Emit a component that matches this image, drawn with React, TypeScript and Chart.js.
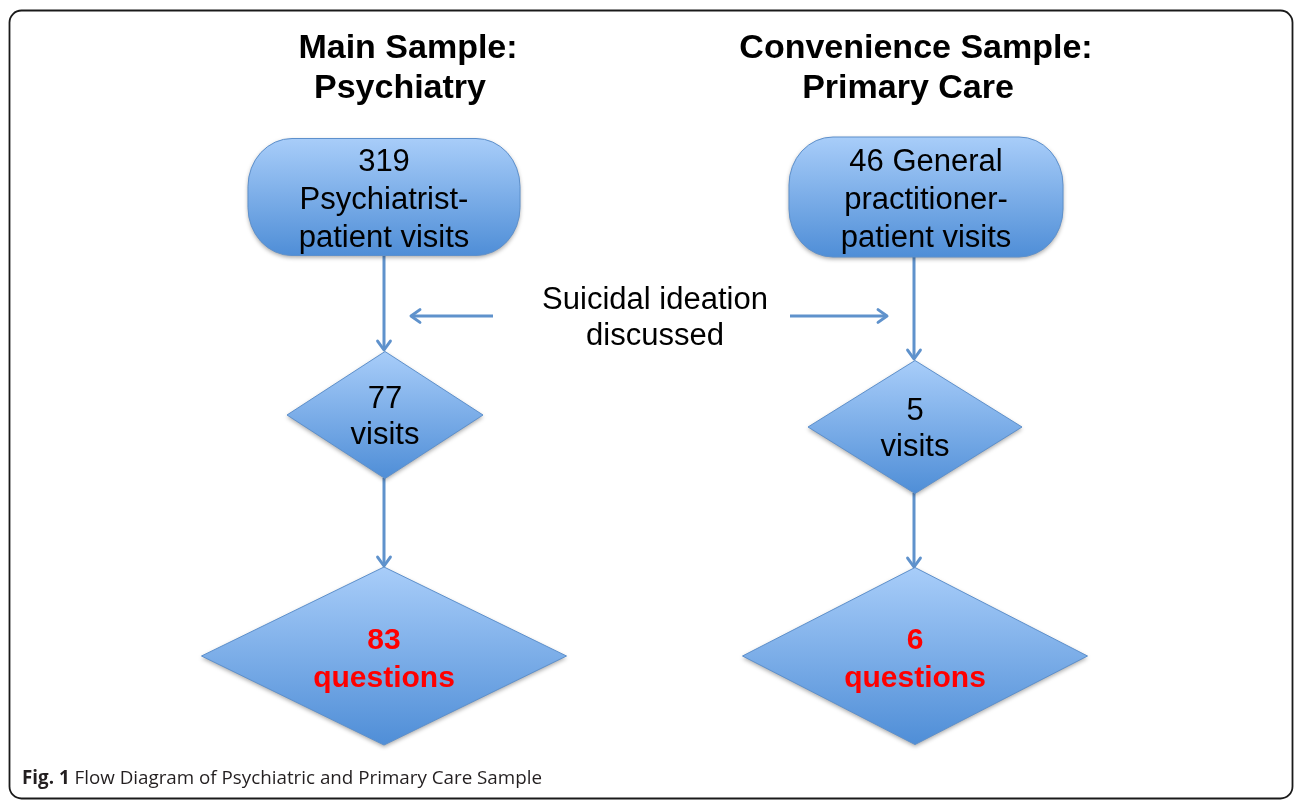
import React, { useEffect, useRef } from 'react';
import { Chart, registerables } from 'chart.js';

Chart.register(...registerables);

const W = 1295;
const H = 803;

// ---- content / values ----
const columnTitles = [
  ['Main Sample:', 'Psychiatry'],
  ['Convenience Sample:', 'Primary Care'],
];
const visitCounts = [319, 46];
const visitFirstLineSuffix = ['', ' General'];
const visitLabels = [
  ['Psychiatrist-', 'patient visits'],
  ['practitioner-', 'patient visits'],
];
const discussedCounts = [77, 5];
const discussedLabel = 'visits';
const questionCounts = [83, 6];
const questionLabel = 'questions';
const middleLabel = ['Suicidal ideation', 'discussed'];
const captionBold = 'Fig. 1';
const captionText = ' Flow Diagram of Psychiatric and Primary Care Sample';

// ---- layout (data units == page pixels) ----
const TITLE_POS = [
  [{ x: 408, y: 58 }, { x: 400, y: 98 }],
  [{ x: 916, y: 58 }, { x: 908, y: 98 }],
];
const PILL_BOX = [
  { x: 384, y: 197, w: 272, h: 117 },
  { x: 926, y: 197, w: 274, h: 120 },
];
const SMALL_BOX = [
  { x: 385, y: 415, w: 196, h: 127 },
  { x: 915, y: 427, w: 214, h: 133 },
];
const LARGE_BOX = [
  { x: 384, y: 656, w: 365, h: 178 },
  { x: 915, y: 656, w: 345, h: 177 },
];
const CONNECTORS = [
  [{ x: 384, y: 256 }, { x: 384, y: 350 }],
  [{ x: 384, y: 478 }, { x: 384, y: 566 }],
  [{ x: 914, y: 257 }, { x: 914, y: 359 }],
  [{ x: 914, y: 493 }, { x: 914, y: 567 }],
  [{ x: 493, y: 316 }, { x: 411, y: 316 }],
  [{ x: 790, y: 316 }, { x: 887, y: 316 }],
];
const MIDDLE_POS = [{ x: 655, y: 309 }, { x: 655, y: 345 }];

const SANS = '"Liberation Sans", Arial, Helvetica, sans-serif';
const CAPTION_FONT = '"Open Sans", "Noto Sans", sans-serif';
const ARROW = '#5f92cc';
const SHAPE_BORDER = '#5d90cc';
const GRAD_TOP = '#a8cdf9';
const GRAD_BOTTOM = '#4f8ed7';

function px(chart: any, p: { x: number; y: number }) {
  return { x: chart.scales.x.getPixelForValue(p.x), y: chart.scales.y.getPixelForValue(p.y) };
}

function sizePx(chart: any, b: { x: number; y: number; w: number; h: number }) {
  const xs = chart.scales.x;
  const ys = chart.scales.y;
  return {
    w: Math.abs(xs.getPixelForValue(b.x + b.w / 2) - xs.getPixelForValue(b.x - b.w / 2)),
    h: Math.abs(ys.getPixelForValue(b.y + b.h / 2) - ys.getPixelForValue(b.y - b.h / 2)),
  };
}

function fillShape(ctx: CanvasRenderingContext2D, cx: number, cy: number, w: number, h: number, path: () => void) {
  const g = ctx.createLinearGradient(0, cy - h / 2, 0, cy + h / 2);
  g.addColorStop(0, GRAD_TOP);
  g.addColorStop(1, GRAD_BOTTOM);
  ctx.save();
  ctx.shadowColor = 'rgba(0,0,0,0.35)';
  ctx.shadowBlur = 4;
  ctx.shadowOffsetY = 2;
  path();
  ctx.fillStyle = g;
  ctx.fill();
  ctx.restore();
  ctx.save();
  path();
  ctx.strokeStyle = SHAPE_BORDER;
  ctx.lineWidth = 1;
  ctx.stroke();
  ctx.restore();
}

function diamondPath(ctx: CanvasRenderingContext2D, cx: number, cy: number, w: number, h: number) {
  return () => {
    ctx.beginPath();
    ctx.moveTo(cx, cy - h / 2);
    ctx.lineTo(cx + w / 2, cy);
    ctx.lineTo(cx, cy + h / 2);
    ctx.lineTo(cx - w / 2, cy);
    ctx.closePath();
  };
}

function pillPath(ctx: CanvasRenderingContext2D, cx: number, cy: number, w: number, h: number, rx: number, ry: number) {
  return () => {
    const x0 = cx - w / 2;
    const y0 = cy - h / 2;
    const P = Math.PI;
    ctx.beginPath();
    ctx.moveTo(x0 + rx, y0);
    ctx.lineTo(x0 + w - rx, y0);
    ctx.ellipse(x0 + w - rx, y0 + ry, rx, ry, 0, -P / 2, 0);
    ctx.lineTo(x0 + w, y0 + h - ry);
    ctx.ellipse(x0 + w - rx, y0 + h - ry, rx, ry, 0, 0, P / 2);
    ctx.lineTo(x0 + rx, y0 + h);
    ctx.ellipse(x0 + rx, y0 + h - ry, rx, ry, 0, P / 2, P);
    ctx.lineTo(x0, y0 + ry);
    ctx.ellipse(x0 + rx, y0 + ry, rx, ry, 0, P, 1.5 * P);
    ctx.closePath();
  };
}

function text(ctx: CanvasRenderingContext2D, s: string, x: number, y: number, font: string, color: string, align: CanvasTextAlign = 'center') {
  ctx.save();
  ctx.font = font;
  ctx.fillStyle = color;
  ctx.textAlign = align;
  ctx.textBaseline = 'alphabetic';
  ctx.fillText(s, x, y);
  ctx.restore();
}

const flowPlugin = {
  id: 'flowDiagram',
  beforeDraw(chart: any) {
    const ctx: CanvasRenderingContext2D = chart.ctx;
    ctx.save();
    ctx.fillStyle = '#ffffff';
    ctx.fillRect(0, 0, chart.width, chart.height);
    ctx.beginPath();
    ctx.roundRect(9.5, 10.5, 1283, 788, 12);
    ctx.strokeStyle = '#1a1a1a';
    ctx.lineWidth = 1.8;
    ctx.stroke();
    ctx.restore();
  },
  afterDatasetsDraw(chart: any) {
    const ctx: CanvasRenderingContext2D = chart.ctx;
    // arrowheads on connector datasets
    chart.data.datasets.forEach((ds: any, i: number) => {
      if (ds.kind !== 'connector') return;
      const meta = chart.getDatasetMeta(i);
      const a = meta.data[0];
      const b = meta.data[1];
      const ang = Math.atan2(b.y - a.y, b.x - a.x);
      const L = 11;
      const spread = 0.62;
      ctx.save();
      ctx.strokeStyle = ARROW;
      ctx.lineWidth = 3;
      ctx.lineCap = 'round';
      ctx.lineJoin = 'round';
      ctx.beginPath();
      ctx.moveTo(b.x - L * Math.cos(ang - spread), b.y - L * Math.sin(ang - spread));
      ctx.lineTo(b.x, b.y);
      ctx.lineTo(b.x - L * Math.cos(ang + spread), b.y - L * Math.sin(ang + spread));
      ctx.stroke();
      ctx.restore();
    });

    // nodes
    chart.data.datasets.forEach((ds: any, i: number) => {
      if (ds.kind === 'connector') return;
      const meta = chart.getDatasetMeta(i);
      meta.data.forEach((el: any, j: number) => {
        const box = ds.boxes[j];
        const { w, h } = sizePx(chart, box);
        const cx = el.x;
        const cy = el.y;
        if (ds.kind === 'pill') {
          fillShape(ctx, cx, cy, w, h, pillPath(ctx, cx, cy, w, h, 44, 48));
          const lines = [`${ds.data[j].v}${visitFirstLineSuffix[j]}`, ...visitLabels[j]];
          const offs = [-26, 12, 50];
          lines.forEach((s, k) => text(ctx, s, cx, cy + offs[k], `31px ${SANS}`, '#000'));
        } else if (ds.kind === 'small') {
          fillShape(ctx, cx, cy, w, h, diamondPath(ctx, cx, cy, w, h));
          text(ctx, `${ds.data[j].v}`, cx, cy - 7, `31px ${SANS}`, '#000');
          text(ctx, discussedLabel, cx, cy + 29, `31px ${SANS}`, '#000');
        } else if (ds.kind === 'large') {
          fillShape(ctx, cx, cy, w, h, diamondPath(ctx, cx, cy, w, h));
          text(ctx, `${ds.data[j].v}`, cx, cy - 7, `bold 30px ${SANS}`, '#ff0000');
          text(ctx, questionLabel, cx, cy + 31, `bold 30px ${SANS}`, '#ff0000');
        }
      });
    });
  },
  afterDraw(chart: any) {
    const ctx: CanvasRenderingContext2D = chart.ctx;
    columnTitles.forEach((lines, i) => {
      lines.forEach((s, k) => {
        const p = px(chart, TITLE_POS[i][k]);
        text(ctx, s, p.x, p.y, `bold 34px ${SANS}`, '#000');
      });
    });
    middleLabel.forEach((s, k) => {
      const p = px(chart, MIDDLE_POS[k]);
      text(ctx, s, p.x, p.y, `31px ${SANS}`, '#000');
    });
    // caption
    const capSize = 18.8;
    ctx.save();
    ctx.font = `bold ${capSize}px ${CAPTION_FONT}`;
    const bw = ctx.measureText(captionBold).width;
    ctx.restore();
    text(ctx, captionBold, 22, 784, `bold ${capSize}px ${CAPTION_FONT}`, '#231f20', 'left');
    text(ctx, captionText, 22 + bw, 784, `${capSize}px ${CAPTION_FONT}`, '#231f20', 'left');
  },
};

export default function App() {
  const ref = useRef<HTMLCanvasElement | null>(null);
  useEffect(() => {
    document.body.style.margin = '0';
    const canvas = ref.current;
    if (!canvas) return;
    const connectorSets = CONNECTORS.map((pts) => ({
      kind: 'connector',
      type: 'line',
      data: pts.map((p) => ({ x: p.x, y: p.y })),
      borderColor: ARROW,
      borderWidth: 3,
      pointRadius: 0,
      showLine: true,
      fill: false,
      tension: 0,
    }));
    const nodeSet = (kind: string, boxes: any[], values: number[]) => ({
      kind,
      type: 'scatter',
      boxes,
      data: boxes.map((b, i) => ({ x: b.x, y: b.y, v: values[i] })),
      pointRadius: 0,
      showLine: false,
    });
    const chart = new Chart(canvas, {
      type: 'scatter',
      data: {
        datasets: [
          ...connectorSets,
          nodeSet('pill', PILL_BOX, visitCounts),
          nodeSet('small', SMALL_BOX, discussedCounts),
          nodeSet('large', LARGE_BOX, questionCounts),
        ] as any,
      },
      options: {
        responsive: false,
        animation: false,
        events: [],
        layout: { padding: 0 },
        plugins: { legend: { display: false }, tooltip: { enabled: false }, title: { display: false } },
        scales: {
          x: { type: 'linear', min: 0, max: W, display: false },
          y: { type: 'linear', min: 0, max: H, reverse: true, display: false },
        },
      },
      plugins: [flowPlugin],
    });
    return () => chart.destroy();
  }, []);
  return (
    <div style={{ position: 'absolute', left: 0, top: 0, width: W, height: H }}>
      <canvas ref={ref} width={W} height={H} style={{ display: 'block', width: W, height: H }} />
    </div>
  );
}
